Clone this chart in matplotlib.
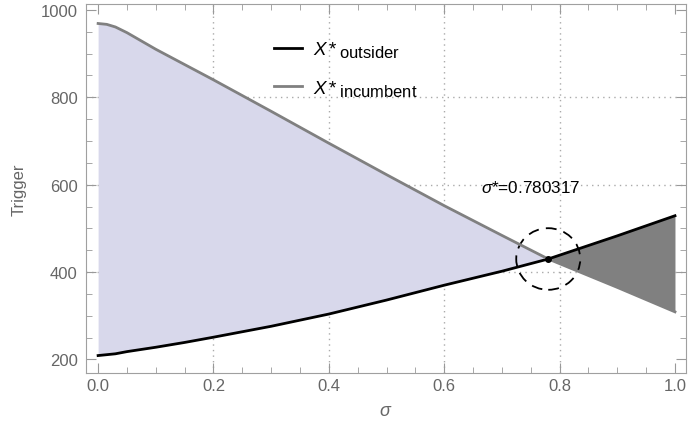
import numpy as np
import matplotlib.pyplot as plt
import matplotlib._mathtext as mathtext_internal
from matplotlib.patches import Ellipse
from matplotlib.ticker import MultipleLocator

# values
sigma = [0.0, 0.015, 0.03, 0.05, 0.075, 0.1, 0.15, 0.2, 0.3, 0.4, 0.5, 0.6, 0.7, 0.780317, 0.9, 1.0]
x_outsider = [209, 211, 213, 218, 223, 228, 239, 251, 276, 304, 336, 370, 402, 430, 483, 529]
x_incumbent = [969, 967, 961, 948, 929, 910, 875, 840, 768, 695, 623, 552, 484, 430, 365, 309]
sigma_star = 0.780317
cross_val = 430

sigma = np.array(sigma)
x_outsider = np.array(x_outsider)
x_incumbent = np.array(x_incumbent)

# subscripts in the reference are nearly full size
mathtext_internal.SHRINK_FACTOR = 0.88

tick_col = '#666666'
plt.rcParams['font.family'] = ['Liberation Sans', 'DejaVu Sans']
plt.rcParams['mathtext.fontset'] = 'custom'
plt.rcParams['mathtext.it'] = 'Liberation Sans:italic'
plt.rcParams['mathtext.rm'] = 'Liberation Sans'

fig = plt.figure(figsize=(6.88, 4.39), dpi=100)
ax = fig.add_axes([0.125, 0.147, 0.872, 0.842])

left = sigma <= sigma_star
right = sigma >= sigma_star
ax.fill_between(sigma[left], x_outsider[left], x_incumbent[left],
                color='#d8d8eb', lw=0)
ax.fill_between(sigma[right], x_outsider[right], x_incumbent[right],
                color='#808080', lw=0)

ax.plot(sigma, x_outsider, color='black', lw=2, label=r'$X{\rm *}_{\rm outsider}$')
ax.plot(sigma, x_incumbent, color='#808080', lw=2, label=r'$X{\rm *}_{\rm incumbent}$')

ax.plot([sigma_star], [cross_val], 'o', color='black', ms=4)
ax.add_patch(Ellipse((sigma_star, cross_val), 0.111, 141, fill=False,
                     ec='black', lw=1.3, ls=(0, (6, 4))))
ax.text(0.664, 595, r'$\sigma$*=0.780317', fontsize=12.3, va='center', ha='left')

ax.set_xlim(-0.021, 1.019)
ax.set_ylim(168, 1014)
ax.xaxis.set_minor_locator(MultipleLocator(0.05))
ax.yaxis.set_major_locator(MultipleLocator(200))
ax.yaxis.set_minor_locator(MultipleLocator(50))
ax.set_xticks([0, 0.2, 0.4, 0.6, 0.8, 1.0])
ax.set_xticklabels(['0.0', '0.2', '0.4', '0.6', '0.8', '1.0'])

for v in [0.2, 0.4, 0.6, 0.8]:
    ax.axvline(v, color='#aaaaaa', lw=1, ls=(0, (1, 3)), zorder=0.5)
for v in [400, 600, 800]:
    ax.axhline(v, color='#aaaaaa', lw=1, ls=(0, (1, 3)), zorder=0.5)

ax.tick_params(which='both', direction='in', top=True, right=True,
               colors='#999999', labelcolor=tick_col, labelsize=12)
ax.tick_params(which='major', length=7)
ax.tick_params(which='minor', length=4)
ax.tick_params(axis='y', pad=6)
for s in ax.spines.values():
    s.set_color('#a0a0a0')

ax.set_xlabel(r'$\sigma$', color=tick_col, fontsize=13, labelpad=6)
ax.set_ylabel('Trigger', color=tick_col, fontsize=12, labelpad=10)

leg = ax.legend(loc='upper left', bbox_to_anchor=(0.285, 0.95), frameon=False,
                fontsize=13.5, handlelength=1.5, handletextpad=0.6,
                labelspacing=1.0)

fig.savefig('out.png', dpi=100)
